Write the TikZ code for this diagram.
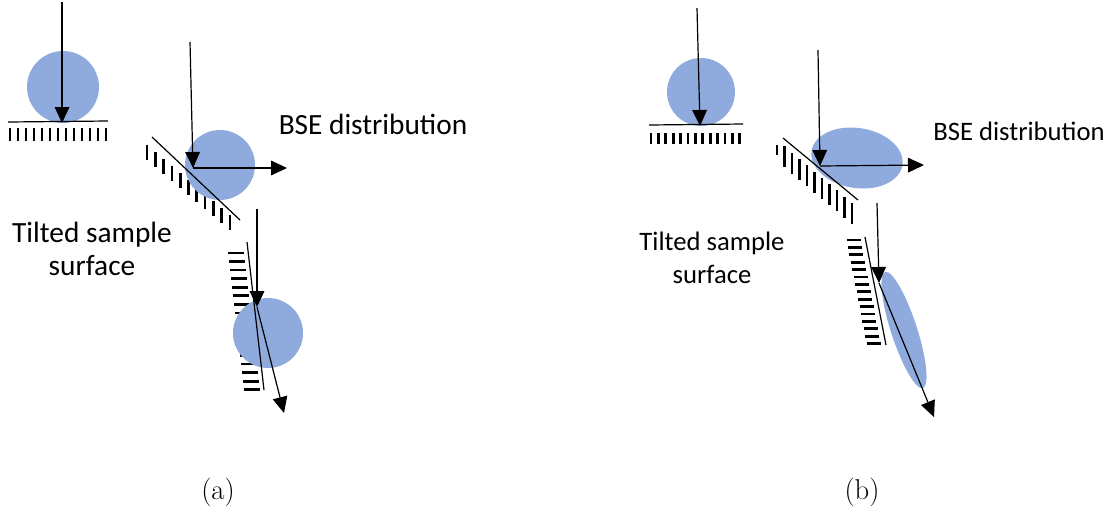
\documentclass[tikz,border=0pt]{standalone}
\usepackage{fontspec}
\newfontfamily\calibri{Carlito}
\usetikzlibrary{arrows.meta}
\definecolor{blobblue}{RGB}{143,170,220}
\begin{document}
\begin{tikzpicture}[x=0.75pt,y=-0.75pt,
  blob/.style={fill=blobblue},
  surf/.style={line width=0.9pt},
  hatch/.style={line width=2pt},
  ray/.style={line width=0.9pt,-{Triangle[length=12pt,width=11pt]}},
  lbla/.style={font=\calibri\fontsize{22}{25}\selectfont, align=center, inner sep=0pt},
  lblb/.style={font=\calibri\fontsize{20}{25}\selectfont, align=center, inner sep=0pt},
  capt/.style={font=\fontsize{21.5}{26}\selectfont, inner sep=0pt}]
\useasboundingbox (0,0) rectangle (1111,508);

% ===== (a) =====
% flat surface
\foreach \i in {0,...,12} \draw[hatch] (10+8*\i,128) -- ++(0,13);
\fill[blob] (63,87) circle[radius=36];
\coordinate (aS1l) at (8,122);
\coordinate (aS1r) at (108,121);
\draw[surf] (aS1l) -- (aS1r);
\coordinate (aIn1) at (62,2);
\coordinate (aHit1) at (62,123);
\draw[ray] (aIn1) -- (aHit1);

% tilted surface
\foreach \i in {0,...,10} \draw[hatch] (147+8.3*\i,145+7*\i) -- ++(0,15);
\fill[blob] (220,165) circle[radius=35];
\coordinate (aS2l) at (152,137);
\coordinate (aS2r) at (240,220);
\draw[surf] (aS2l) -- (aS2r);
\coordinate (aIn2) at (190,42);
\coordinate (aHit2) at (193,168);
\coordinate (aOut2) at (287,168);
\draw[ray] (aIn2) -- (aHit2);
\draw[ray] (aHit2) -- (aOut2);

% steep surface
\foreach \i in {0,...,16} {
  \pgfmathsetmacro\yy{253+8.55*\i}
  \pgfmathsetmacro\xx{247+(\yy-242)*17/148-4}
  \draw[hatch] (\xx-16,\yy) -- (\xx,\yy);
}
\fill[blob] (268,333) circle[radius=35];
\coordinate (aS3t) at (247,242);
\coordinate (aS3b) at (264,390);
\draw[surf] (aS3t) -- (aS3b);
\coordinate (aIn3) at (257,209);
\coordinate (aHit3) at (257,307);
\coordinate (aOut3) at (284,413);
\draw[ray] (aIn3) -- (aHit3);
\draw[ray] (aHit3) -- (aOut3);

\node[lbla] (aTilt) at (92,249) {Tilted sample\\surface};
\node[lbla] (aBSE) at (373,124) {BSE distribution};
\node[capt] (capA) at (218,492) {(a)};

% ===== (b) =====
% flat surface
\foreach \i in {0,...,12} \draw[hatch] (651+7.4*\i,133) -- ++(0,11);
\fill[blob] (701,92) circle[radius=34];
\coordinate (bS1l) at (649,125);
\coordinate (bS1r) at (743,124);
\draw[surf] (bS1l) -- (bS1r);
\coordinate (bIn1) at (697,8);
\coordinate (bHit1) at (700,126);
\draw[ray] (bIn1) -- (bHit1);

% tilted surface
\draw[hatch] (777,145) -- ++(0,10);
\foreach \i in {1,...,10} \draw[hatch] (777+7.5*\i,140+6.3*\i) -- ++(0,21);
\fill[blob, rotate around={-9:(857,158)}] (857,158) ellipse[x radius=46, y radius=30];
\coordinate (bS2l) at (783,138);
\coordinate (bS2r) at (858,200);
\draw[surf] (bS2l) -- (bS2r);
\coordinate (bIn2) at (818,50);
\coordinate (bHit2) at (820,166);
\coordinate (bOut2) at (924,165);
\draw[ray] (bIn2) -- (bHit2);
\draw[ray] (bHit2) -- (bOut2);

% steep surface
\foreach \i in {0,...,14} {
  \pgfmathsetmacro\yy{240+7.4*\i}
  \pgfmathsetmacro\xx{865+(\yy-237)*21/108-5}
  \draw[hatch] (\xx-14,\yy) -- (\xx,\yy);
}
\fill[blob, rotate around={18:(904,330)}] (904,330) ellipse[x radius=13, y radius=61];
\coordinate (bS3t) at (865,237);
\coordinate (bS3b) at (886,345);
\draw[surf] (bS3t) -- (bS3b);
\coordinate (bIn3) at (877,203);
\coordinate (bHit3) at (879,283);
\coordinate (bOut3) at (934,417);
\draw[ray] (bIn3) -- (bHit3);
\draw[ray] (bHit3) -- (bOut3);

\node[lblb] (bTilt) at (712,258) {Tilted sample\\surface};
\node[lblb] (bBSE) at (1019,131) {BSE distribution};
\node[capt] (capB) at (862,492) {(b)};
\end{tikzpicture}
\end{document}
